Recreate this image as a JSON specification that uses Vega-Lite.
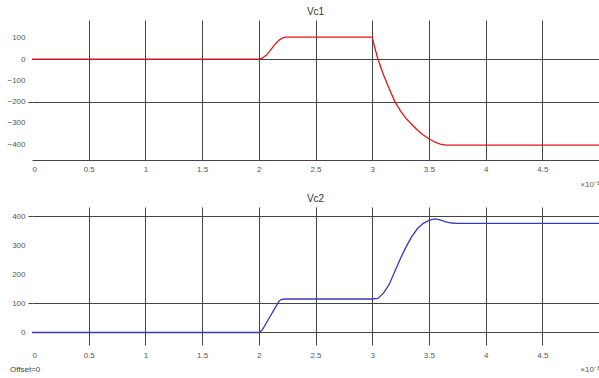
{
  "$schema": "https://vega.github.io/schema/vega-lite/v6.json",
  "padding": {"left": 0, "top": 7, "right": 0, "bottom": 0},
  "background": "white",
  "config": {
    "font": "Liberation Sans",
    "view": {"stroke": null},
    "title": {"fontSize": 10, "fontWeight": "normal", "color": "#333", "offset": 3},
    "axis": {"labelFontSize": 8, "labelColor": "#555", "gridColor": "#444", "gridWidth": 1, "domainColor": "#444", "tickColor": "#444", "titleFontSize": 8, "titleFontWeight": "normal", "titleColor": "#555"}
  },
  "bounds": "flush",
  "spacing": 47,
  "title": {"text": "Offset=0", "orient": "bottom", "anchor": "start", "fontSize": 8, "fontWeight": "normal", "color": "#444", "dx": 10, "offset": -7, "frame": "bounds"},
  "datasets": {
    "vc1": [
      {"t": 0, "v": 0}, {"t": 2.0, "v": 0}, {"t": 2.03, "v": 4}, {"t": 2.07, "v": 20}, {"t": 2.1, "v": 40},
      {"t": 2.14, "v": 68}, {"t": 2.18, "v": 90}, {"t": 2.21, "v": 100}, {"t": 2.24, "v": 103}, {"t": 3.0, "v": 103},
      {"t": 3.02, "v": 60}, {"t": 3.05, "v": 0}, {"t": 3.1, "v": -75}, {"t": 3.15, "v": -140}, {"t": 3.2, "v": -200},
      {"t": 3.25, "v": -245}, {"t": 3.3, "v": -280}, {"t": 3.35, "v": -308}, {"t": 3.4, "v": -335}, {"t": 3.45, "v": -357},
      {"t": 3.5, "v": -375}, {"t": 3.55, "v": -390}, {"t": 3.6, "v": -400}, {"t": 3.65, "v": -405}, {"t": 5.0, "v": -405}
    ],
    "vc2": [
      {"t": 0, "v": 0}, {"t": 2.0, "v": 0}, {"t": 2.03, "v": 8}, {"t": 2.07, "v": 35}, {"t": 2.1, "v": 55},
      {"t": 2.14, "v": 82}, {"t": 2.18, "v": 108}, {"t": 2.2, "v": 114}, {"t": 2.23, "v": 115}, {"t": 3.0, "v": 115},
      {"t": 3.05, "v": 117}, {"t": 3.1, "v": 135}, {"t": 3.15, "v": 165}, {"t": 3.2, "v": 210}, {"t": 3.25, "v": 255},
      {"t": 3.3, "v": 295}, {"t": 3.35, "v": 330}, {"t": 3.4, "v": 357}, {"t": 3.45, "v": 375}, {"t": 3.5, "v": 385},
      {"t": 3.55, "v": 390}, {"t": 3.6, "v": 387}, {"t": 3.65, "v": 380}, {"t": 3.7, "v": 376}, {"t": 3.75, "v": 375},
      {"t": 5.0, "v": 375}
    ]
  },
  "vconcat": [
    {
      "width": 567,
      "height": 140,
      "title": "Vc1",
      "data": {"name": "vc1"},
      "mark": {"type": "line", "color": "#e0141c", "strokeWidth": 1.3, "clip": true},
      "encoding": {
        "x": {"field": "t", "type": "quantitative", "scale": {"domain": [0, 5], "nice": false},
          "axis": {"title": "×10⁻³", "titleAnchor": "end", "titleAlign": "right", "titlePadding": 7, "values": [0, 0.5, 1, 1.5, 2, 2.5, 3, 3.5, 4, 4.5], "labelExpr": "datum.value", "ticks": false, "domain": true, "labelPadding": 5,
            "grid": true, "gridOpacity": {"condition": {"test": "datum.value > 0", "value": 1}, "value": 0}}},
        "y": {"field": "v", "type": "quantitative", "scale": {"domain": [-475, 184], "nice": false, "zero": false},
          "axis": {"title": null, "values": [-400, -300, -200, -100, 0, 100], "format": "d", "domain": false, "minExtent": 32, "maxExtent": 32, "tickSize": 4, "labelPadding": 3,
            "grid": true, "gridOpacity": {"condition": {"test": "datum.value == 0 || datum.value == -200", "value": 1}, "value": 0},
            "tickOpacity": {"condition": {"test": "datum.value == -200", "value": 1}, "value": 0}}}
      }
    },
    {
      "width": 567,
      "height": 138,
      "title": "Vc2",
      "data": {"name": "vc2"},
      "mark": {"type": "line", "color": "#3838c0", "strokeWidth": 1.3, "clip": true},
      "encoding": {
        "x": {"field": "t", "type": "quantitative", "scale": {"domain": [0, 5], "nice": false},
          "axis": {"title": "×10⁻³", "titleAnchor": "end", "titleAlign": "right", "titlePadding": 6, "values": [0, 0.5, 1, 1.5, 2, 2.5, 3, 3.5, 4, 4.5], "labelExpr": "datum.value", "ticks": false, "domain": false, "labelPadding": 6,
            "grid": true, "gridOpacity": {"condition": {"test": "datum.value > 0", "value": 1}, "value": 0}}},
        "y": {"field": "v", "type": "quantitative", "scale": {"domain": [-43, 431], "nice": false, "zero": false},
          "axis": {"title": null, "values": [0, 100, 200, 300, 400], "format": "d", "domain": false, "minExtent": 32, "maxExtent": 32, "tickSize": 4, "labelPadding": 3,
            "grid": true, "gridOpacity": {"condition": {"test": "datum.value == 0 || datum.value == 100 || datum.value == 400", "value": 1}, "value": 0},
            "tickOpacity": {"condition": {"test": "datum.value == 100 || datum.value == 400", "value": 1}, "value": 0}}}
      }
    }
  ]
}
